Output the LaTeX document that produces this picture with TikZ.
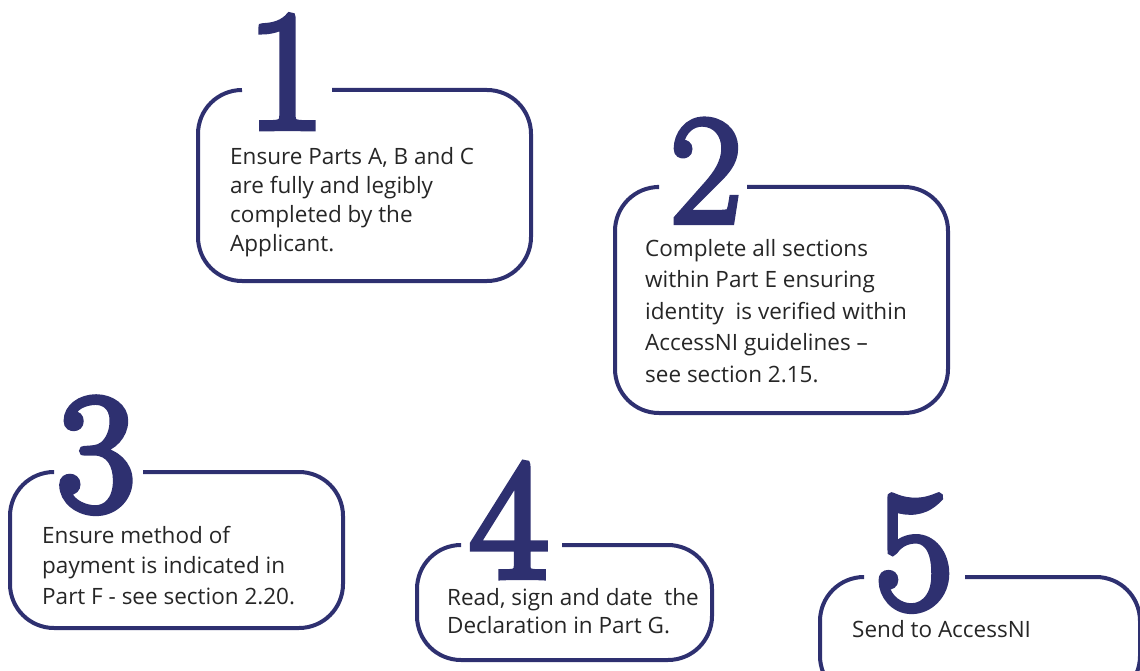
\documentclass[tikz,border=0pt]{standalone}
\usepackage{fontspec}
\newfontfamily\bodyfont{Open Sans}
\newfontfamily\numfont[FakeBold=4]{Latin Modern Roman}
\definecolor{frame}{HTML}{2E3070}
\definecolor{ink}{HTML}{262626}
\tikzset{
	stepframe/.style={draw=frame, line width=4pt, rounded corners=44pt},
	stepnum/.style={anchor=base, text=frame, inner sep=0pt, font=\numfont\fontsize{170}{170}\selectfont},
	steptext/.style={anchor=north west, align=left, inner sep=0pt, text=ink, font=\bodyfont\fontsize{22.5}{29}\selectfont}
}
\begin{document}
\begin{tikzpicture}[x=1pt,y=-1pt]
	\useasboundingbox ( 0, 0 ) rectangle ( 1140, 671 );

	% step 1
	\draw [stepframe] ( 332, 90 ) -- ( 531, 90 ) -- ( 531, 281 ) -- ( 198, 281 ) -- ( 198, 90 ) -- ( 242, 90 );
	\node [stepnum] (num1) at ( 286, 128 ) {1};
	\node [steptext] (text1) at ( 230, 147 ) {Ensure Parts A, B and C\\ are fully and legibly\\ completed by the\\ Applicant.};

	% step 2
	\draw [stepframe] ( 747, 187 ) -- ( 948, 187 ) -- ( 948, 413 ) -- ( 615, 413 ) -- ( 615, 187 ) -- ( 657, 187 );
	\node [stepnum, font=\numfont\fontsize{155}{155}\selectfont] (num2) at ( 706, 222 ) {2};
	\node [steptext, font=\bodyfont\fontsize{22.5}{31.5}\selectfont] (text2) at ( 645, 239 ) {Complete all sections\\ within Part E ensuring\\ identity\ \ is verified within\\ AccessNI guidelines \textendash\\ see section 2.15.};

	% step 3
	\draw [stepframe] ( 143, 472 ) -- ( 343, 472 ) -- ( 343, 628 ) -- ( 10, 628 ) -- ( 10, 472 ) -- ( 53, 472 );
	\node [stepnum] (num3) at ( 96, 510 ) {3};
	\node [steptext, font=\bodyfont\fontsize{22.5}{30.5}\selectfont] (text3) at ( 42, 526 ) {Ensure method of\\ payment is indicated in\\ Part F - see section 2.20.};

	% step 4
	\draw [stepframe] ( 562, 545 ) -- ( 712, 545 ) -- ( 712, 660 ) -- ( 417, 660 ) -- ( 417, 545 ) -- ( 457, 545 );
	\node [stepnum] (num4) at ( 509, 577 ) {4};
	\node [steptext, font=\bodyfont\fontsize{22.5}{28}\selectfont] (text4) at ( 447, 588 ) {Read, sign and date\ \ the\\ Declaration in Part G.};

	% step 5
	\draw [stepframe] ( 965, 577 ) -- ( 1140, 577 ) -- ( 1140, 700 ) -- ( 820, 700 ) -- ( 820, 577 ) -- ( 862, 577 );
	\node [stepnum] (num5) at ( 914, 608 ) {5};
	\node [steptext] (text5) at ( 852, 620 ) {Send to AccessNI};
\end{tikzpicture}
\end{document}
